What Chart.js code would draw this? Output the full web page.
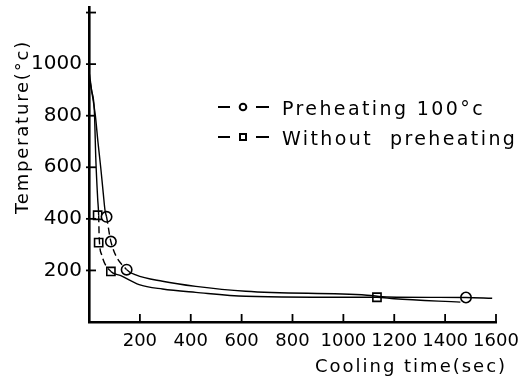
<!DOCTYPE html>
<html>
<head>
<meta charset="utf-8">
<script src="https://cdn.jsdelivr.net/npm/chart.js@4"></script>
<style>
  html, body { margin: 0; padding: 0; background: #fff; }
  #wrap { width: 531px; height: 381px; position: relative; }
</style>
</head>
<body>
<div id="wrap"><canvas id="coolChart"></canvas></div>
<script>
// --- DATA ---
// curves (time in sec, temperature in °C)
const preheatTime = [4, 25, 35, 46, 56, 63, 69, 86, 148, 184, 289, 420, 616, 1093, 1171, 1482, 1585];
const preheatTemp = [935, 800, 700, 600, 500, 433, 408, 312, 203, 183, 158, 138, 119, 104, 97, 95, 92];
const withoutTime = [2, 10, 21, 27, 34, 38, 40, 50, 86, 125, 197, 289, 420, 616, 1093, 1132, 1200, 1460];
const withoutTemp = [960, 900, 819, 626, 480, 414, 330, 260, 196, 180, 145, 128, 115, 100, 96, 96, 90, 77];

// measured points (markers)
const preheatMarkTime = [69, 86, 148, 1482];
const preheatMarkTemp = [408, 312, 203, 95];
const withoutMarkTime = [34, 38, 86, 1132];
const withoutMarkTemp = [414, 308, 196, 96];

const xTickLabels = [200, 400, 600, 800, 1000, 1200, 1400, 1600];
const yTickLabels = [200, 400, 600, 800, 1000];
const yTickMarks = [200, 400, 600, 800, 1000, 1200];

const toPoints = (xs, ys) => xs.map((x, i) => ({ x: x, y: ys[i] }));

// dashed stretch where the curves run through the markers
const dashNearMarkers = ctx =>
    (ctx.p0.parsed.y <= 420 && ctx.p1.parsed.y >= 190) ? [7, 4] : undefined;

// --- PLUGINS ---
// ticks point into the plot, so draw them here
const innerTicks = {
    id: 'innerTicks',
    afterDraw(chart) {
        const c = chart.ctx, x = chart.scales.x, y = chart.scales.y;
        c.save();
        c.strokeStyle = '#000';
        c.lineWidth = 1.8;
        xTickLabels.forEach(v => {
            const px = x.getPixelForValue(v);
            c.beginPath();
            c.moveTo(px, x.top);
            c.lineTo(px, x.top - 8);
            c.stroke();
        });
        yTickMarks.forEach(v => {
            const py = y.getPixelForValue(v);
            c.beginPath();
            c.moveTo(y.right - 3, py);
            c.lineTo(y.right + 7, py);
            c.stroke();
        });
        c.restore();
    }
};

// axis titles and legend placed like the original figure
const figureText = {
    id: 'figureText',
    afterDraw(chart) {
        const c = chart.ctx;
        c.save();
        c.fillStyle = '#000';
        c.font = '18px "DejaVu Sans"';
        c.textAlign = 'center';
        c.textBaseline = 'alphabetic';

        c.letterSpacing = '2px';
        c.fillText(chart.options.scales.x.title.text, 411, 372);

        c.save();
        c.translate(28, 127);
        c.rotate(-Math.PI / 2);
        c.letterSpacing = '1.8px';
        c.fillText(chart.options.scales.y.title.text, 0, 0);
        c.restore();

        // legend
        const rows = [
            { ds: chart.data.datasets[2], base: 115, mid: 107 },
            { ds: chart.data.datasets[3], base: 145, mid: 137 }
        ];
        c.textAlign = 'left';
        c.font = '19px "DejaVu Sans"';
        c.letterSpacing = '2.4px';
        c.lineWidth = 2;
        c.strokeStyle = '#000';
        rows.forEach(r => {
            c.beginPath();
            c.moveTo(218, r.mid); c.lineTo(230, r.mid);
            c.moveTo(256, r.mid); c.lineTo(269, r.mid);
            c.stroke();
            c.beginPath();
            if (r.ds.pointStyle === 'circle') {
                c.arc(243, r.mid, 3.3, 0, Math.PI * 2);
            } else {
                c.rect(240, r.mid - 3, 6, 6);
            }
            c.stroke();
            c.fillText(r.ds.label, 282, r.base);
        });
        c.restore();
    }
};

// --- CHART ---
const curveStyle = {
    borderColor: '#000',
    borderWidth: 1.4,
    pointRadius: 0,
    fill: false,
    cubicInterpolationMode: 'monotone',
    segment: { borderDash: dashNearMarkers }
};
const markStyle = {
    showLine: false,
    borderColor: '#000',
    backgroundColor: '#fff',
    pointBorderWidth: 1.6
};

new Chart(document.getElementById('coolChart').getContext('2d'), {
    type: 'line',
    data: {
        datasets: [
            Object.assign({ label: 'preheat curve', data: toPoints(preheatTime, preheatTemp) }, curveStyle),
            Object.assign({ label: 'without curve', data: toPoints(withoutTime, withoutTemp) }, curveStyle),
            Object.assign({ label: 'Preheating 100°c', data: toPoints(preheatMarkTime, preheatMarkTemp),
                pointStyle: 'circle', pointRadius: 5.2 }, markStyle),
            Object.assign({ label: 'Without  preheating', data: toPoints(withoutMarkTime, withoutMarkTemp),
                pointStyle: 'rect', pointRadius: 5.8 }, markStyle)
        ]
    },
    options: {
        responsive: true,
        maintainAspectRatio: false,
        animation: false,
        layout: { padding: { top: 6, right: 35, left: 0, bottom: 0 } },
        scales: {
            x: {
                type: 'linear',
                min: 0,
                max: 1600,
                afterFit: s => { s.height = 59; s.paddingLeft = 0; s.paddingRight = 0; },
                afterBuildTicks: s => { s.ticks = xTickLabels.map(v => ({ value: v })); },
                grid: { display: false, drawTicks: false },
                border: { display: true, color: '#000', width: 2.6 },
                ticks: { color: '#000', padding: 9, maxRotation: 0,
                         callback: v => String(v),
                         font: { family: '"DejaVu Sans"', size: 18 } },
                title: { display: false, text: 'Cooling time(sec)' }
            },
            y: {
                min: 0,
                max: 1220,
                afterFit: s => { s.width = 89; s.paddingTop = 0; s.paddingBottom = 0; },
                afterBuildTicks: s => { s.ticks = yTickLabels.map(v => ({ value: v })); },
                grid: { display: false, drawTicks: false },
                border: { display: true, color: '#000', width: 2.6 },
                ticks: { color: '#000', padding: 7,
                         callback: v => String(v),
                         font: { family: '"DejaVu Sans"', size: 20 } },
                title: { display: false, text: 'Temperature(°c)' }
            }
        },
        plugins: {
            legend: { display: false },
            tooltip: { enabled: false }
        }
    },
    plugins: [innerTicks, figureText]
});
</script>
</body>
</html>
